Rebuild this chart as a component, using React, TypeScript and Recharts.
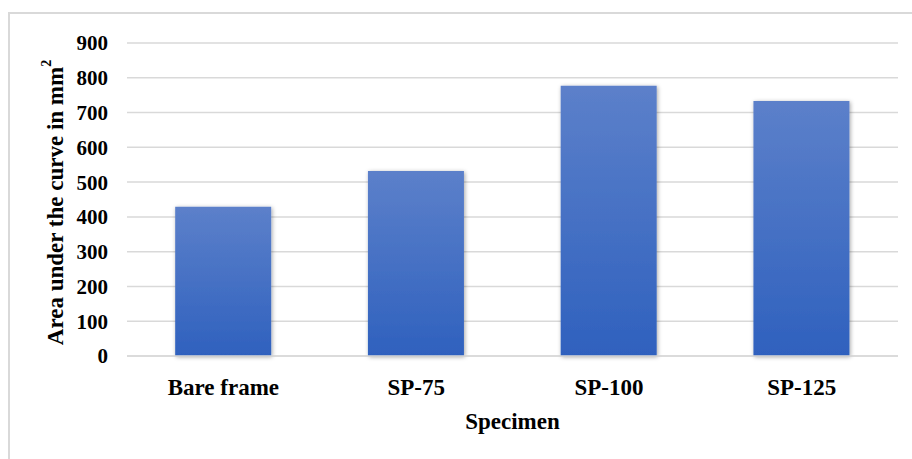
import React from "react";
import { BarChart, Bar, XAxis, YAxis, CartesianGrid } from "recharts";

// ---- data ----
const specimens = ["Bare frame", "SP-75", "SP-100", "SP-125"];
const areaValues = [429, 532, 777, 733];
const yTicks = [0, 100, 200, 300, 400, 500, 600, 700, 800, 900];

const chartData = specimens.map((name, i) => ({ name, area: areaValues[i] }));

const colors = {
  barTop: "#5c80ca",
  barBottom: "#2f61be",
  grid: "#d9d9d9",
  frame: "#d9d9d9",
  text: "#000000",
};

const fontFamily = '"Liberation Serif", "Times New Roman", serif';

// rotated y-axis title with the superscript 2
const YTitle = (props: any) => {
  const vb = props.viewBox || {};
  const cy = vb.y + vb.height / 2 + 3;
  const cx = 55;
  return (
    <text
      x={cx}
      y={cy}
      transform={`rotate(-90, ${cx}, ${cy})`}
      textAnchor="middle"
      dominantBaseline="central"
      fontFamily={fontFamily}
      fontWeight="bold"
      fontSize={23}
      fill={colors.text}
    >
      Area under the curve in mm
      <tspan fontSize={14} dy={-9}>2</tspan>
    </text>
  );
};

export default function App() {
  return (
    <div style={{ position: "absolute", left: 0, top: 0, width: 912, height: 459, background: "#fff" }}>
      {/* chart frame (only top and left edges are visible in the crop) */}
      <div
        style={{
          position: "absolute",
          left: 8,
          top: 12,
          width: 920,
          height: 460,
          borderTop: `2px solid ${colors.frame}`,
          borderLeft: `2px solid ${colors.frame}`,
        }}
      />
      <div style={{ position: "absolute", left: 0, top: 0 }}>
        <BarChart
          width={912}
          height={459}
          data={chartData}
          margin={{ top: 43, right: 14, bottom: 30, left: 67 }}
          barCategoryGap="25%"
        >
          <defs>
            <linearGradient id="barFill" x1="0" y1="0" x2="0" y2="1">
              <stop offset="0%" stopColor={colors.barTop} />
              <stop offset="100%" stopColor={colors.barBottom} />
            </linearGradient>
            <filter id="barShadow" x="-20%" y="-20%" width="140%" height="140%">
              <feDropShadow dx="1" dy="1" stdDeviation="2" floodColor="#000" floodOpacity="0.35" />
            </filter>
          </defs>
          <CartesianGrid vertical={false} stroke={colors.grid} strokeWidth={1.5} />
          <XAxis
            dataKey="name"
            axisLine={{ stroke: colors.grid, strokeWidth: 1.5 }}
            tickLine={false}
            height={73}
            tickMargin={17}
            interval={0}
            tick={{ fill: colors.text, fontFamily, fontWeight: "bold", fontSize: 23 }}
            label={{
              value: "Specimen",
              position: "insideBottom",
              offset: 0,
              fill: colors.text,
              fontFamily,
              fontWeight: "bold",
              fontSize: 23,
            }}
          />
          <YAxis
            width={60}
            domain={[0, 900]}
            ticks={yTicks}
            interval={0}
            axisLine={false}
            tickLine={false}
            tickMargin={13}
            tick={{ fill: colors.text, fontFamily, fontWeight: "bold", fontSize: 21 }}
            label={<YTitle />}
          />
          <Bar
            dataKey="area"
            fill="url(#barFill)"
            filter="url(#barShadow)"
            isAnimationActive={false}
          />
        </BarChart>
      </div>
    </div>
  );
}
